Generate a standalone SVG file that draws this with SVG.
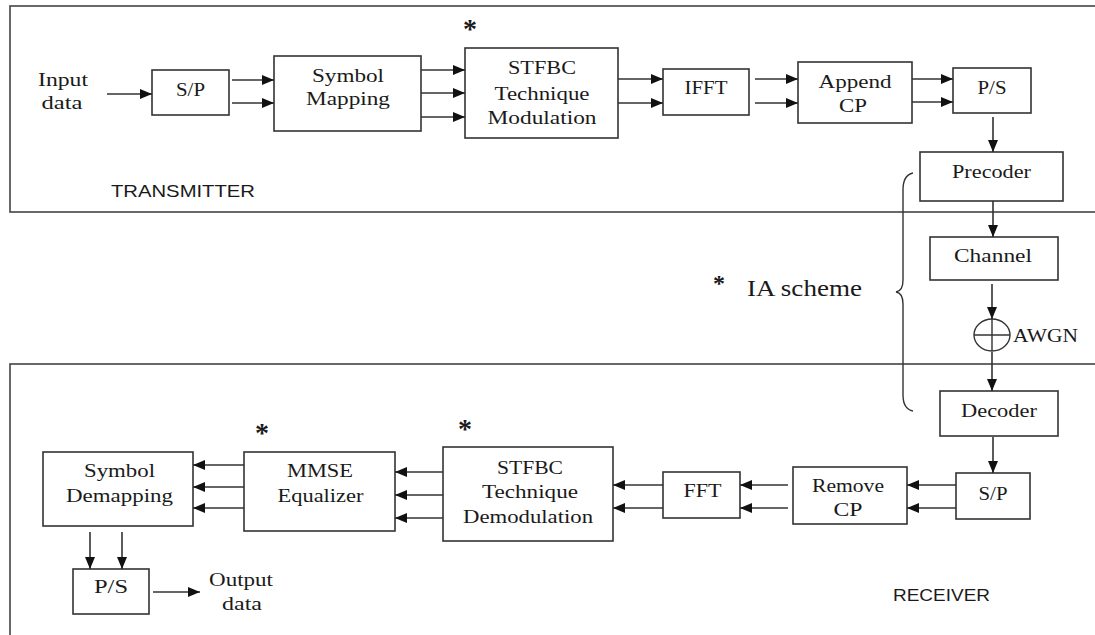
<svg xmlns="http://www.w3.org/2000/svg" width="1095" height="635" viewBox="0 0 1095 635">
<style>
.frame{fill:none;stroke:#444;stroke-width:1.6}
.box{fill:#fff;stroke:#333;stroke-width:1.6}
.t{font-family:"Liberation Serif","Times New Roman",serif;font-size:18px;fill:#1a1a1a;text-anchor:middle}
.s{font-family:"Liberation Sans",Arial,sans-serif;font-size:17px;fill:#1a1a1a}
.ast{font-family:"Liberation Serif","Times New Roman",serif;font-size:28px;font-weight:bold;fill:#1a1a1a;text-anchor:middle}
.c{stroke:#333;stroke-width:1.6;fill:none;marker-end:url(#ah)}
.ln{stroke:#333;stroke-width:1.4;fill:none}
</style>
<defs>
<marker id="ah" viewBox="0 0 12 10" refX="12" refY="5" markerUnits="userSpaceOnUse" markerWidth="12" markerHeight="10" orient="auto">
<path d="M0,0 L12,5 L0,10 z" fill="#111"/>
</marker>
</defs>
<rect width="1095" height="635" fill="#fff"/>
<g id="frames">
<rect class="frame" x="10" y="6" width="1100" height="206"/>
<rect class="frame" x="10" y="364" width="1100" height="300"/>
<text class="s" x="111" y="197" textLength="144" lengthAdjust="spacingAndGlyphs">TRANSMITTER</text>
<text class="s" x="893" y="601" textLength="97" lengthAdjust="spacingAndGlyphs">RECEIVER</text>
</g>
<g id="input-label">
<text class="t" x="63" y="86" textLength="50" lengthAdjust="spacingAndGlyphs">Input</text>
<text class="t" x="62" y="109" textLength="41" lengthAdjust="spacingAndGlyphs">data</text>
</g>
<g id="sp-tx">
<rect class="box" x="152" y="70" width="77" height="45"/>
<text class="t" x="190.5" y="96" textLength="29" lengthAdjust="spacingAndGlyphs">S/P</text>
</g>
<g id="symbol-mapping">
<rect class="box" x="274" y="56" width="147" height="75"/>
<text class="t" x="348" y="82" textLength="72" lengthAdjust="spacingAndGlyphs">Symbol</text>
<text class="t" x="348" y="105" textLength="84" lengthAdjust="spacingAndGlyphs">Mapping</text>
</g>
<g id="stfbc-mod">
<rect class="box" x="465" y="48" width="153" height="90"/>
<text class="t" x="542" y="74" textLength="68" lengthAdjust="spacingAndGlyphs">STFBC</text>
<text class="t" x="542" y="100" textLength="95" lengthAdjust="spacingAndGlyphs">Technique</text>
<text class="t" x="542" y="124" textLength="109" lengthAdjust="spacingAndGlyphs">Modulation</text>
<text class="ast" x="470" y="38">*</text>
</g>
<g id="ifft">
<rect class="box" x="663" y="69" width="86" height="46"/>
<text class="t" x="706" y="94" textLength="43" lengthAdjust="spacingAndGlyphs">IFFT</text>
</g>
<g id="append-cp">
<rect class="box" x="798" y="62" width="114" height="61"/>
<text class="t" x="855" y="88" textLength="73" lengthAdjust="spacingAndGlyphs">Append</text>
<text class="t" x="853" y="112" textLength="28" lengthAdjust="spacingAndGlyphs">CP</text>
</g>
<g id="ps-tx">
<rect class="box" x="953" y="68" width="78" height="45"/>
<text class="t" x="992" y="94" textLength="29" lengthAdjust="spacingAndGlyphs">P/S</text>
</g>
<g id="precoder">
<rect class="box" x="920" y="152" width="143" height="49"/>
<text class="t" x="991.5" y="178" textLength="79" lengthAdjust="spacingAndGlyphs">Precoder</text>
</g>
<g id="channel">
<rect class="box" x="930" y="237" width="128" height="43"/>
<text class="t" x="993" y="262" textLength="78" lengthAdjust="spacingAndGlyphs">Channel</text>
</g>
<g id="awgn">
<ellipse cx="992" cy="335" rx="18" ry="16" class="ln"/>
<line class="ln" x1="974" y1="335" x2="1010" y2="335"/>
<line class="ln" x1="992" y1="319" x2="992" y2="351"/>
<text class="t" x="1045.5" y="342" textLength="65" lengthAdjust="spacingAndGlyphs">AWGN</text>
</g>
<g id="ia-scheme">
<path class="ln" d="M913,173 Q903,175 903,190 L903,280 Q903,291 896,292 Q903,293 903,304 L903,395 Q903,409 913,411"/>
<text class="ast" x="719" y="291" style="font-size:24px">*</text>
<text class="t" x="804.5" y="296" style="font-size:23px" textLength="115" lengthAdjust="spacingAndGlyphs">IA scheme</text>
</g>
<g id="decoder">
<rect class="box" x="940" y="391" width="118" height="45"/>
<text class="t" x="999" y="417" textLength="76" lengthAdjust="spacingAndGlyphs">Decoder</text>
</g>
<g id="sp-rx">
<rect class="box" x="956" y="473" width="74" height="46"/>
<text class="t" x="993" y="500" textLength="29" lengthAdjust="spacingAndGlyphs">S/P</text>
</g>
<g id="remove-cp">
<rect class="box" x="793" y="467" width="114" height="57"/>
<text class="t" x="848" y="492" textLength="72" lengthAdjust="spacingAndGlyphs">Remove</text>
<text class="t" x="848" y="516" textLength="29" lengthAdjust="spacingAndGlyphs">CP</text>
</g>
<g id="fft">
<rect class="box" x="663" y="472" width="77" height="46"/>
<text class="t" x="702.5" y="497" textLength="38" lengthAdjust="spacingAndGlyphs">FFT</text>
</g>
<g id="stfbc-demod">
<rect class="box" x="443" y="447" width="170" height="94"/>
<text class="t" x="530" y="474" textLength="66" lengthAdjust="spacingAndGlyphs">STFBC</text>
<text class="t" x="530" y="498" textLength="96" lengthAdjust="spacingAndGlyphs">Technique</text>
<text class="t" x="528" y="523" textLength="130" lengthAdjust="spacingAndGlyphs">Demodulation</text>
<text class="ast" x="465" y="438">*</text>
</g>
<g id="mmse">
<rect class="box" x="244" y="452" width="151" height="79"/>
<text class="t" x="320" y="477" textLength="66" lengthAdjust="spacingAndGlyphs">MMSE</text>
<text class="t" x="320.5" y="502" textLength="86" lengthAdjust="spacingAndGlyphs">Equalizer</text>
<text class="ast" x="262" y="442">*</text>
</g>
<g id="symbol-demapping">
<rect class="box" x="43" y="452" width="150" height="74"/>
<text class="t" x="119.5" y="477" textLength="71" lengthAdjust="spacingAndGlyphs">Symbol</text>
<text class="t" x="119.5" y="502" textLength="107" lengthAdjust="spacingAndGlyphs">Demapping</text>
</g>
<g id="ps-rx">
<rect class="box" x="73" y="569" width="76" height="45"/>
<text class="t" x="111" y="593" textLength="34" lengthAdjust="spacingAndGlyphs">P/S</text>
</g>
<g id="output-label">
<text class="t" x="241" y="586" textLength="64" lengthAdjust="spacingAndGlyphs">Output</text>
<text class="t" x="242" y="610" textLength="40" lengthAdjust="spacingAndGlyphs">data</text>
</g>
<g id="connectors">
<line class="c" x1="107" y1="94" x2="152" y2="94"/>
<line class="c" x1="232" y1="80" x2="274" y2="80"/>
<line class="c" x1="232" y1="103" x2="274" y2="103"/>
<line class="c" x1="421" y1="70" x2="465" y2="70"/>
<line class="c" x1="421" y1="93" x2="465" y2="93"/>
<line class="c" x1="421" y1="117" x2="465" y2="117"/>
<line class="c" x1="618" y1="79" x2="663" y2="79"/>
<line class="c" x1="618" y1="103" x2="663" y2="103"/>
<line class="c" x1="755" y1="79" x2="798" y2="79"/>
<line class="c" x1="755" y1="103" x2="798" y2="103"/>
<line class="c" x1="912" y1="79" x2="953" y2="79"/>
<line class="c" x1="912" y1="102" x2="953" y2="102"/>
<line class="c" x1="993" y1="117" x2="993" y2="152"/>
<line class="c" x1="993" y1="201" x2="993" y2="237"/>
<line class="c" x1="992" y1="284" x2="992" y2="319"/>
<line class="c" x1="992" y1="352" x2="992" y2="391"/>
<line class="c" x1="993" y1="437" x2="993" y2="473"/>
<line class="c" x1="956" y1="485" x2="907" y2="485"/>
<line class="c" x1="956" y1="508" x2="907" y2="508"/>
<line class="c" x1="788" y1="485" x2="740" y2="485"/>
<line class="c" x1="788" y1="508" x2="740" y2="508"/>
<line class="c" x1="663" y1="485" x2="613" y2="485"/>
<line class="c" x1="663" y1="508" x2="613" y2="508"/>
<line class="c" x1="443" y1="472" x2="395" y2="472"/>
<line class="c" x1="443" y1="495" x2="395" y2="495"/>
<line class="c" x1="443" y1="518" x2="395" y2="518"/>
<line class="c" x1="244" y1="465" x2="193" y2="465"/>
<line class="c" x1="244" y1="487" x2="193" y2="487"/>
<line class="c" x1="244" y1="508" x2="193" y2="508"/>
<line class="c" x1="90" y1="532" x2="90" y2="569"/>
<line class="c" x1="122" y1="532" x2="122" y2="569"/>
<line class="c" x1="153" y1="592" x2="200" y2="592"/>
</g>
</svg>
